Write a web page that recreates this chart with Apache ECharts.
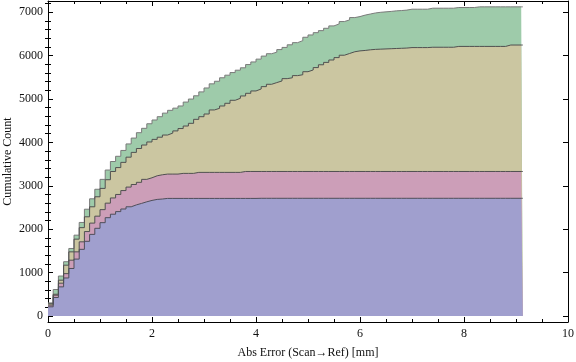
<!DOCTYPE html>
<html>
<head>
<meta charset="utf-8">
<title>cumulative count</title>
<script src="https://cdn.jsdelivr.net/npm/echarts@6/dist/echarts.min.js"></script>
<style>
    html, body { margin: 0; padding: 0; background: #fff; }
    #main { width: 576px; height: 362px; }
</style>
</head>
<body>
<div id="main"></div>
<script>
    // histogram bins are 0.1 mm wide, last bin stops a bit after 9.1
    var binWidth = 0.1;
    var lastEdge = 9.13;

    var xTicks = [0, 2, 4, 6, 8, 10];
    var yTicks = [0, 1000, 2000, 3000, 4000, 5000, 6000, 7000];

    // top edge of each coloured band (cumulative count), one value per bin
    var blueTop = [
        210, 425, 670, 875, 1094, 1310, 1535, 1720, 1880, 2020,
        2150, 2265, 2345, 2405, 2465, 2516, 2560, 2594, 2631, 2663,
        2686, 2695, 2709, 2709, 2709, 2709, 2709, 2709, 2709, 2709,
        2709, 2709, 2709, 2709, 2709, 2709, 2709, 2709, 2709, 2709,
        2712, 2712, 2712, 2712, 2712, 2712, 2712, 2712, 2712, 2712,
        2712, 2712, 2712, 2712, 2712, 2712, 2712, 2712, 2712, 2712,
        2712, 2712, 2712, 2712, 2712, 2712, 2712, 2712, 2712, 2712,
        2712, 2712, 2712, 2712, 2712, 2712, 2712, 2712, 2712, 2712,
        2712, 2712, 2712, 2712, 2712, 2712, 2712, 2712, 2712, 2712,
        2712, 2712
    ];
    var pinkTop = [
        250, 478, 755, 975, 1285, 1477, 1708, 1945, 2140, 2300,
        2450, 2600, 2720, 2800, 2890, 2970, 3030, 3080, 3148, 3185,
        3231, 3254, 3270, 3270, 3270, 3286, 3286, 3286, 3309, 3309,
        3309, 3309, 3309, 3309, 3309, 3309, 3309, 3330, 3330, 3330,
        3330, 3330, 3330, 3330, 3330, 3330, 3330, 3330, 3330, 3330,
        3330, 3330, 3330, 3330, 3330, 3330, 3330, 3330, 3330, 3330,
        3330, 3330, 3330, 3330, 3330, 3330, 3330, 3330, 3330, 3330,
        3330, 3330, 3330, 3330, 3330, 3330, 3330, 3330, 3330, 3330,
        3330, 3330, 3330, 3330, 3330, 3330, 3330, 3330, 3330, 3330,
        3330, 3330
    ];
    var tanTop = [
        280, 500, 824, 1170, 1477, 1770, 2035, 2285, 2516, 2747,
        2940, 3140, 3330, 3420, 3540, 3660, 3770, 3860, 3940, 4010,
        4070, 4120, 4170, 4215, 4265, 4320, 4378, 4440, 4532, 4593,
        4655, 4748, 4786, 4840, 4902, 4971, 5017, 5071, 5132, 5186,
        5232, 5286, 5340, 5379, 5417, 5470, 5490, 5540, 5560, 5630,
        5670, 5725, 5790, 5845, 5900, 5955, 6010, 6050, 6090, 6110,
        6120, 6135, 6145, 6150, 6155, 6160, 6165, 6170, 6175, 6186,
        6186, 6186, 6186, 6194, 6194, 6194, 6194, 6194, 6213, 6213,
        6213, 6213, 6213, 6213, 6213, 6213, 6213, 6213, 6245, 6245,
        6245, 6245
    ];
    var greenTop = [
        300, 609, 920, 1250, 1555, 1862, 2155, 2460, 2700, 2920,
        3148, 3363, 3560, 3680, 3815, 3965, 4100, 4224, 4325, 4430,
        4517, 4593, 4675, 4740, 4790, 4840, 4930, 5000, 5075, 5165,
        5255, 5350, 5410, 5490, 5550, 5610, 5665, 5720, 5795, 5855,
        5920, 5990, 6045, 6080, 6140, 6190, 6250, 6300, 6346, 6424,
        6477, 6530, 6577, 6631, 6686, 6732, 6786, 6824, 6878, 6901,
        6935, 6960, 6985, 7000, 7010, 7020, 7033, 7040, 7050, 7071,
        7071, 7071, 7071, 7094, 7094, 7094, 7094, 7094, 7110, 7110,
        7110, 7110, 7125, 7125, 7125, 7125, 7125, 7125, 7125, 7125,
        7125, 7125
    ];

    var font = 'Liberation Serif';
    var yMinor = [];
    for (var t = 200; t <= 7200; t += 200) {
        if (t % 1000 !== 0) yMinor.push(t);
    }

    function steps(vals) {
        var pts = vals.map(function (v, i) { return [+(i * binWidth).toFixed(2), v]; });
        pts.push([lastEdge, vals[vals.length - 1]]);
        return pts;
    }

    function band(name, vals, fill, edge) {
        return {
            name: name,
            type: 'line',
            step: 'end',
            data: steps(vals),
            symbol: 'none',
            lineStyle: { color: edge, width: 1 },
            areaStyle: { color: fill, opacity: 1 },
            emphasis: { disabled: true },
            xAxisIndex: 0,
            yAxisIndex: 0
        };
    }

    var tickLine = { color: '#000', width: 1 };
    var plain = function (v) { return String(v); };

    var chart = echarts.init(document.getElementById('main'));
    chart.setOption({
        animation: false,
        grid: { left: 48, right: 8, top: 1, bottom: 40, containLabel: false, outerBoundsMode: 'none' },
        xAxis: [{
            type: 'value', position: 'bottom', min: 0, max: 10, interval: 2,
            axisLine: { show: true, onZero: false, lineStyle: tickLine },
            axisTick: { inside: true, length: 5, lineStyle: tickLine },
            minorTick: { show: true, splitNumber: 4, length: 3, lineStyle: tickLine },
            axisLabel: { fontFamily: font, fontSize: 12, color: '#111', margin: 6,
                customValues: xTicks, formatter: plain },
            splitLine: { show: false },
            name: 'Abs Error (Scan\u2192Ref) [mm]',
            nameLocation: 'middle', nameGap: 25, nameMoveOverlap: false,
            nameTextStyle: { fontFamily: font, fontSize: 12, color: '#111' }
        }, {
            type: 'value', position: 'top', min: 0, max: 10, interval: 2,
            axisLine: { show: true, onZero: false, lineStyle: tickLine },
            axisTick: { inside: true, length: 5, lineStyle: tickLine },
            minorTick: { show: true, splitNumber: 4, length: 3, lineStyle: tickLine },
            axisLabel: { show: false },
            splitLine: { show: false }
        }],
        yAxis: [{
            type: 'value', position: 'left', min: -140, max: 7260,
            axisLine: { show: true, onZero: false, lineStyle: tickLine },
            axisTick: { inside: true, length: 5, lineStyle: tickLine, customValues: yTicks },
            axisLabel: { fontFamily: font, fontSize: 12, color: '#111', margin: 5,
                customValues: yTicks, formatter: plain },
            splitLine: { show: false },
            name: 'Cumulative Count',
            nameLocation: 'middle', nameGap: 34, nameMoveOverlap: false,
            nameTextStyle: { fontFamily: font, fontSize: 12, color: '#111' }
        }, {
            type: 'value', position: 'left', min: -140, max: 7260,
            axisLine: { show: false },
            axisTick: { inside: true, length: 3, lineStyle: tickLine, customValues: yMinor },
            axisLabel: { show: false },
            splitLine: { show: false }
        }, {
            type: 'value', position: 'right', min: -140, max: 7260,
            axisLine: { show: true, onZero: false, lineStyle: tickLine },
            axisTick: { inside: true, length: 5, lineStyle: tickLine, customValues: yTicks },
            axisLabel: { show: false },
            splitLine: { show: false }
        }, {
            type: 'value', position: 'right', min: -140, max: 7260,
            axisLine: { show: false },
            axisTick: { inside: true, length: 3, lineStyle: tickLine, customValues: yMinor },
            axisLabel: { show: false },
            splitLine: { show: false }
        }],
        series: [
            band('green', greenTop, '#9ecbaa', '#7a7a7a'),
            band('tan', tanTop, '#cbc6a1', '#505050'),
            band('pink', pinkTop, '#cc9eb8', '#505050'),
            band('blue', blueTop, '#a09fce', '#4e4e5a')
        ]
    });
</script>
</body>
</html>
